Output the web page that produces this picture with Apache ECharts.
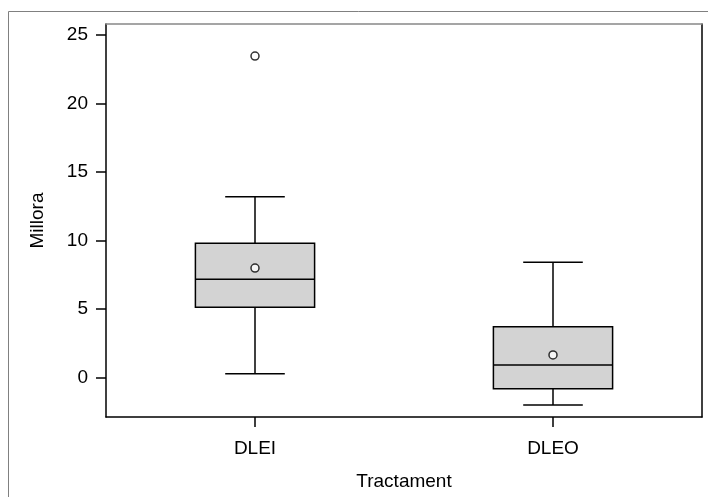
<!DOCTYPE html>
<html>
<head>
<meta charset="utf-8">
<script src="https://cdn.jsdelivr.net/npm/echarts@6/dist/echarts.min.js"></script>
<style>html,body{margin:0;padding:0;background:#fff}#c{width:708px;height:497px}</style>
</head>
<body>
<div id="c"></div>
<script>
const categories = ['DLEI', 'DLEO'];
const lowerWhisker = [0.29, -1.99];
const q1 = [5.14, -0.80];
const median = [7.18, 0.93];
const q3 = [9.81, 3.72];
const upperWhisker = [13.21, 8.42];
const means = [8.0, 1.66];
const outliers = [['DLEI', 23.48]];
const yTicks = [0, 5, 10, 15, 20, 25];
const yMin = -2.87, yMax = 25.82;

const FONT = 'Liberation Sans, Arial, sans-serif';
const chart = echarts.init(document.getElementById('c'), null, {renderer: 'canvas'});

function renderBox(params, api) {
  const i = api.value(0);
  const lo = api.coord([i, api.value(1)]);
  const a = api.coord([i, api.value(2)]);
  const m = api.coord([i, api.value(3)]);
  const b = api.coord([i, api.value(4)]);
  const hi = api.coord([i, api.value(5)]);
  const band = api.size([1, 0])[0];
  const bw = band * 0.4, cw = band * 0.2;
  const x = lo[0];
  const ls = {stroke: '#000', lineWidth: 1.5};
  return {
    type: 'group',
    children: [
      {type: 'line', shape: {x1: x, y1: b[1], x2: x, y2: hi[1]}, style: ls},
      {type: 'line', shape: {x1: x, y1: a[1], x2: x, y2: lo[1]}, style: ls},
      {type: 'line', shape: {x1: x - cw / 2, y1: hi[1], x2: x + cw / 2, y2: hi[1]}, style: ls},
      {type: 'line', shape: {x1: x - cw / 2, y1: lo[1], x2: x + cw / 2, y2: lo[1]}, style: ls},
      {type: 'rect', shape: {x: x - bw / 2, y: b[1], width: bw, height: a[1] - b[1]},
        style: {fill: '#d3d3d3', stroke: '#000', lineWidth: 1.5}},
      {type: 'line', shape: {x1: x - bw / 2, y1: m[1], x2: x + bw / 2, y2: m[1]}, style: ls}
    ]
  };
}

const option = {
  backgroundColor: '#fff',
  animation: false,
  graphic: [
    {type: 'line', shape: {x1: 8.5, y1: 11.5, x2: 708, y2: 11.5}, style: {stroke: '#808080', lineWidth: 1}},
    {type: 'line', shape: {x1: 8.5, y1: 11.5, x2: 8.5, y2: 497}, style: {stroke: '#808080', lineWidth: 1}}
  ],
  grid: {left: 106, right: 6, top: 24, bottom: 80, show: false},
  xAxis: [{
    type: 'category',
    data: categories,
    boundaryGap: true,
    position: 'bottom',
    axisLine: {show: true, onZero: false, lineStyle: {color: '#000', width: 1.5}},
    axisTick: {show: true, alignWithLabel: true, length: 10, lineStyle: {color: '#000', width: 1.5}},
    axisLabel: {color: '#000', fontSize: 19, fontFamily: FONT, margin: 22},
    splitLine: {show: false},
    name: 'Tractament',
    nameLocation: 'middle',
    nameGap: 55,
    nameTextStyle: {color: '#000', fontSize: 19, fontFamily: FONT}
  }, {
    type: 'category',
    data: categories,
    position: 'top',
    axisLine: {show: true, onZero: false, lineStyle: {color: '#888', width: 1.5}},
    axisTick: {show: false},
    axisLabel: {show: false}
  }],
  yAxis: [{
    type: 'value',
    min: yMin,
    max: yMax,
    axisLine: {show: true, onZero: false, lineStyle: {color: '#000', width: 1.5}},
    axisTick: {show: true, length: 10, customValues: yTicks, lineStyle: {color: '#000', width: 1.5}},
    axisLabel: {color: '#000', fontSize: 19, fontFamily: FONT, margin: 18, customValues: yTicks},
    splitLine: {show: false},
    name: 'Millora',
    nameLocation: 'middle',
    nameGap: 59,
    nameRotate: 90,
    nameTextStyle: {color: '#000', fontSize: 19, fontFamily: FONT}
  }, {
    type: 'value',
    min: yMin,
    max: yMax,
    position: 'right',
    axisLine: {show: true, onZero: false, lineStyle: {color: '#000', width: 1.5}},
    axisTick: {show: false},
    axisLabel: {show: false},
    splitLine: {show: false}
  }],
  series: [{
    type: 'custom',
    renderItem: renderBox,
    encode: {x: 0, y: [1, 2, 3, 4, 5]},
    data: categories.map((c, i) => [i, lowerWhisker[i], q1[i], median[i], q3[i], upperWhisker[i]]),
    z: 2
  }, {
    type: 'scatter',
    symbol: 'circle',
    symbolSize: 8,
    itemStyle: {color: '#fff', borderColor: '#000', borderWidth: 1.5},
    data: categories.map((c, i) => [c, means[i]]),
    z: 3
  }, {
    type: 'scatter',
    symbol: 'circle',
    symbolSize: 8,
    itemStyle: {color: '#fff', borderColor: '#000', borderWidth: 1.5},
    data: outliers,
    z: 3
  }]
};
chart.setOption(option);
</script>
</body>
</html>
